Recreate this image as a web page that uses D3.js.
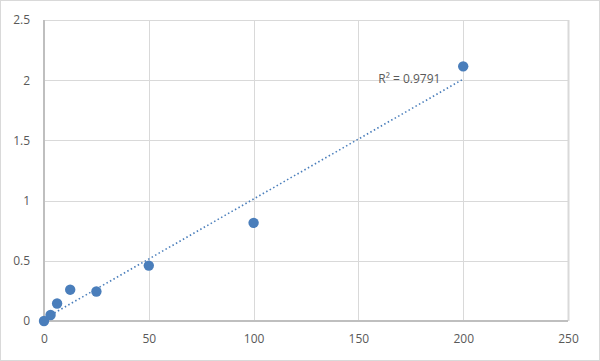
<!DOCTYPE html>
<html lang="en-US">
<head>
<meta charset="UTF-8">
<title>Standard curve</title>
<script src="https://d3js.org/d3.v7.min.js"></script>
<style>
  body { margin: 0; background: #fff; }
  .tick text { font-family: "Open Sans", "Liberation Sans", sans-serif; font-size: 12px; fill: #595959; }
  .grid line { stroke: #d9d9d9; stroke-width: 1px; }
  .axisline { stroke: #bfbfbf; stroke-width: 2px; }
  .dot { fill: #4a7ebb; }
  .trend { fill: none; stroke: #4a7ebb; stroke-width: 1.6px; stroke-dasharray: 1.5,2.5; }
</style>
</head>
<body>
<script>
// concentration vs OD values
var conc = [0, 3.125, 6.25, 12.5, 25, 50, 100, 200];
var od   = [0, 0.05, 0.145, 0.26, 0.245, 0.46, 0.815, 2.115];
var xTicks = [0, 50, 100, 150, 200, 250];
var yTicks = [0, 0.5, 1, 1.5, 2, 2.5];
var r2Label = "R² = 0.9791";

var W = 600, H = 361;
var margin = {top: 20, right: 32, bottom: 40, left: 44};
var width = W - margin.left - margin.right,
    height = H - margin.top - margin.bottom;

var x = d3.scaleLinear().domain([0, 250]).range([0, width]);
var y = d3.scaleLinear().domain([0, 2.5]).range([height, 0]);

var svg = d3.select("body").append("svg")
    .attr("width", W)
    .attr("height", H);

// outer chart border
svg.append("rect")
    .attr("x", 0.5).attr("y", 0.5)
    .attr("width", W - 1).attr("height", H - 1)
    .attr("fill", "#fff")
    .attr("stroke", "#d9d9d9");

var g = svg.append("g")
    .attr("transform", "translate(" + margin.left + "," + margin.top + ")");

// gridlines
g.append("g").attr("class", "grid")
  .selectAll("line").data(yTicks.slice(1)).enter().append("line")
    .attr("x1", 0).attr("x2", width)
    .attr("y1", function(d) { return Math.round(y(d)) + 0.5; })
    .attr("y2", function(d) { return Math.round(y(d)) + 0.5; });

g.append("g").attr("class", "grid")
  .selectAll("line").data(xTicks.slice(1)).enter().append("line")
    .attr("y1", 0).attr("y2", height)
    .attr("x1", function(d) { return Math.round(x(d)) + 0.5; })
    .attr("x2", function(d) { return Math.round(x(d)) + 0.5; })
    .style("stroke-width", function(d) { return d === 250 ? 2 : 1; });

// axis lines at x=0 and y=0
g.append("line").attr("class", "axisline")
    .attr("x1", x(0)).attr("x2", x(250))
    .attr("y1", Math.round(y(0))).attr("y2", Math.round(y(0)));
g.append("line").attr("class", "axisline")
    .attr("x1", Math.round(x(0))).attr("x2", Math.round(x(0)))
    .attr("y1", y(2.5)).attr("y2", y(0) + 1);

// axes (labels only)
var xAxis = g.append("g")
    .attr("transform", "translate(0," + height + ")")
    .call(d3.axisBottom(x).tickValues(xTicks).tickSize(0).tickPadding(13));
xAxis.select(".domain").remove();

var yAxis = g.append("g")
    .call(d3.axisLeft(y).tickValues(yTicks).tickSize(0).tickPadding(14).tickFormat(d3.format("")));
yAxis.select(".domain").remove();

// linear trendline (least squares from the data)
var mx = d3.mean(conc), my = d3.mean(od);
var sxy = d3.sum(conc, function(c, i) { return (c - mx) * (od[i] - my); });
var sxx = d3.sum(conc, function(c) { return (c - mx) * (c - mx); });
var slope = sxy / sxx, icept = my - slope * mx;
var trendX = [0, d3.max(conc)];

g.append("path")
    .attr("class", "trend")
    .attr("d", d3.line()
        .x(function(d) { return x(d); })
        .y(function(d) { return y(slope * d + icept); })(trendX));

// points
g.selectAll(".dot")
    .data(conc.map(function(c, i) { return {x: c, y: od[i]}; }))
  .enter().append("circle")
    .attr("class", "dot")
    .attr("cx", function(d) { return x(d.x); })
    .attr("cy", function(d) { return y(d.y); })
    .attr("r", 5.2);

// R squared label
g.append("text")
    .attr("x", x(159.5))
    .attr("y", y(1.98))
    .style("font-family", "\"Open Sans\", \"Liberation Sans\", sans-serif")
    .style("font-size", "12px")
    .style("fill", "#595959")
    .text(r2Label);
</script>
</body>
</html>
